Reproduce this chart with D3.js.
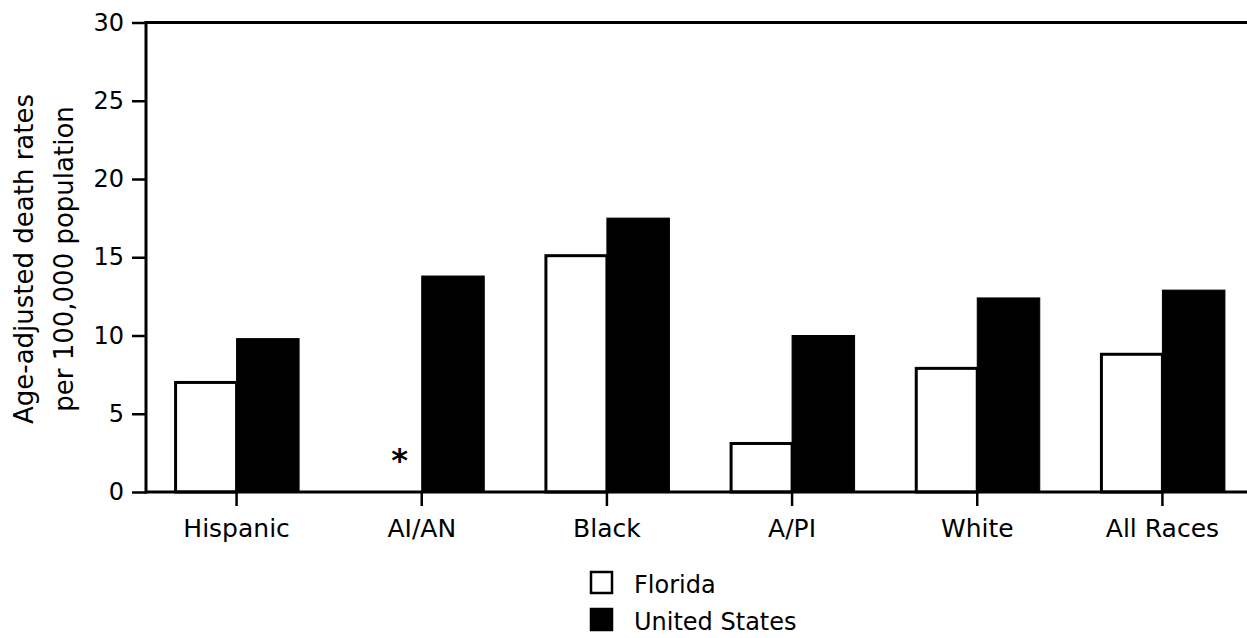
<!DOCTYPE html>
<html>
<head>
<meta charset="utf-8">
<script src="https://cdn.jsdelivr.net/npm/d3@7"></script>
<style>
  html, body { margin: 0; padding: 0; background: #fff; }
  svg { display: block; }
  text { font-family: "DejaVu Sans", "Liberation Sans", Arial, sans-serif; fill: #000; }
</style>
</head>
<body>
<svg id="chart" width="1247" height="638"></svg>
<script>
const categories = ["Hispanic", "AI/AN", "Black", "A/PI", "White", "All Races"];
const seriesNames = ["Florida", "United States"];
const florida = [7.0, null, 15.1, 3.1, 7.9, 8.8];
const unitedStates = [9.8, 13.8, 17.5, 10.0, 12.4, 12.9];
const yTicks = [0, 5, 10, 15, 20, 25, 30];
const yLabelLines = ["Age-adjusted death rates", "per 100,000 population"];
const missingMark = "*";

const W = 1247, H = 638;
const axisX = 146, yTop = 22.5, yBottom = 492;

const svg = d3.select("#chart");

const y = d3.scaleLinear().domain([0, 30]).range([yBottom, yTop]);
const x = d3.scaleBand().domain(categories).range([144, 1255]).paddingInner(0).paddingOuter(0);
const barW = 62.5;
const xs = d3.scaleBand().domain(seriesNames).range([-barW, barW]);

const data = categories.map((c, i) => ({
  cat: c,
  values: [
    { s: "Florida", v: florida[i] },
    { s: "United States", v: unitedStates[i] }
  ]
}));

// top frame line
svg.append("line")
  .attr("x1", axisX).attr("x2", W)
  .attr("y1", y(30)).attr("y2", y(30))
  .attr("stroke", "#000").attr("stroke-width", 3);

// bars
const groups = svg.append("g").selectAll("g")
  .data(data).join("g")
  .attr("transform", d => `translate(${x(d.cat) + x.bandwidth() / 2},0)`);

groups.selectAll("rect")
  .data(d => d.values.filter(v => v.v !== null))
  .join("rect")
  .attr("x", d => xs(d.s) + (d.s === "Florida" ? 1.5 : 0))
  .attr("y", d => y(d.v))
  .attr("width", d => xs.bandwidth() - (d.s === "Florida" ? 1.5 : 0))
  .attr("height", d => y(0) - y(d.v))
  .attr("fill", d => d.s === "Florida" ? "#fff" : "#000")
  .attr("stroke", "#000")
  .attr("stroke-width", d => d.s === "Florida" ? 3 : 1);

// missing value marker
groups.filter((d) => d.values[0].v === null)
  .append("text")
  .attr("x", xs("Florida") + xs.bandwidth() / 2 + 9)
  .attr("y", y(0) - 21)
  .attr("text-anchor", "middle")
  .attr("font-size", 32)
  .attr("font-weight", "bold")
  .text(missingMark);

// y axis
const yAxis = d3.axisLeft(y).tickValues(yTicks).tickSize(14).tickPadding(8).tickFormat(d3.format("d"));
const gy = svg.append("g").attr("transform", `translate(${axisX},0)`).call(yAxis);
gy.select(".domain").remove();
gy.selectAll(".tick line").attr("stroke", "#000").attr("stroke-width", 2.5);
gy.selectAll(".tick text").attr("font-size", 24).attr("fill", "#000")
  .style("font-family", "'DejaVu Sans', 'Liberation Sans', Arial, sans-serif");
svg.append("line")
  .attr("x1", axisX).attr("x2", axisX)
  .attr("y1", y(30) - 1.5).attr("y2", y(0) + 1.5)
  .attr("stroke", "#000").attr("stroke-width", 3);

// x axis
const xAxis = d3.axisBottom(x).tickSize(14).tickPadding(13);
const gx = svg.append("g").attr("transform", `translate(0,${yBottom})`).call(xAxis);
gx.select(".domain").remove();
gx.selectAll(".tick line").attr("stroke", "#000").attr("stroke-width", 2.5);
gx.selectAll(".tick text").attr("font-size", 25).attr("fill", "#000")
  .style("font-family", "'DejaVu Sans', 'Liberation Sans', Arial, sans-serif");
svg.append("line")
  .attr("x1", axisX).attr("x2", W)
  .attr("y1", y(0)).attr("y2", y(0))
  .attr("stroke", "#000").attr("stroke-width", 3);

// y axis label
const yl = svg.append("g");
yLabelLines.forEach((t, i) => {
  yl.append("text")
    .attr("transform", `translate(${33 + i * 40},259) rotate(-90)`)
    .attr("text-anchor", "middle")
    .attr("font-size", 26)
    .text(t);
});

// legend
const legend = svg.append("g").attr("transform", "translate(590,571)");
const li = legend.selectAll("g").data(seriesNames).join("g")
  .attr("transform", (d, i) => `translate(0,${i * 37})`);
li.append("rect")
  .attr("x", 1).attr("y", 1)
  .attr("width", 21).attr("height", 21)
  .attr("fill", d => d === "Florida" ? "#fff" : "#000")
  .attr("stroke", "#000").attr("stroke-width", 2.5);
li.append("text")
  .attr("x", 44).attr("y", 22)
  .attr("font-size", 24)
  .text(d => d);
</script>
</body>
</html>
